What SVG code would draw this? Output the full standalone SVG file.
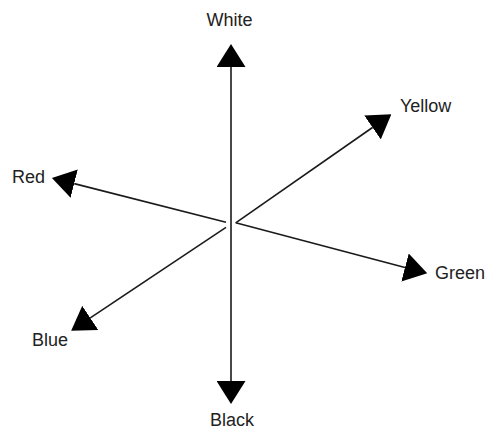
<svg xmlns="http://www.w3.org/2000/svg" width="486" height="432" viewBox="0 0 486 432">
  <style>
    .axis { stroke: #1a1a1a; stroke-width: 1.6; fill: none; marker-end: url(#head); }
    .lbl { font-family: "Liberation Sans", Arial, sans-serif; font-size: 18px; fill: #222; }
  </style>
  <defs>
    <marker id="head" viewBox="0 0 23 29" refX="0" refY="14.5" markerWidth="23" markerHeight="29" markerUnits="userSpaceOnUse" orient="auto">
      <path d="M0,0 L23,14.5 L0,29 Z" fill="#000"/>
    </marker>
  </defs>
  <rect width="486" height="432" fill="#fff"/>
  <g id="connectors">
    <line class="axis" x1="231" y1="222" x2="231" y2="67"/>
    <line class="axis" x1="231" y1="222" x2="231" y2="381"/>
    <line class="axis" x1="226" y1="222.3" x2="74.2" y2="183.6"/>
    <line class="axis" x1="235.7" y1="222.8" x2="405" y2="267.5"/>
    <line class="axis" x1="235.7" y1="222.8" x2="372.5" y2="127.5"/>
    <line class="axis" x1="226" y1="227.3" x2="90.3" y2="317.9"/>
  </g>
  <g id="white"><text class="lbl" x="229.5" y="26" text-anchor="middle">White</text></g>
  <g id="black"><text class="lbl" x="232" y="426" text-anchor="middle">Black</text></g>
  <g id="red"><text class="lbl" x="12" y="183">Red</text></g>
  <g id="yellow"><text class="lbl" x="400" y="112">Yellow</text></g>
  <g id="green"><text class="lbl" x="435" y="279">Green</text></g>
  <g id="blue"><text class="lbl" x="32" y="346">Blue</text></g>
</svg>
